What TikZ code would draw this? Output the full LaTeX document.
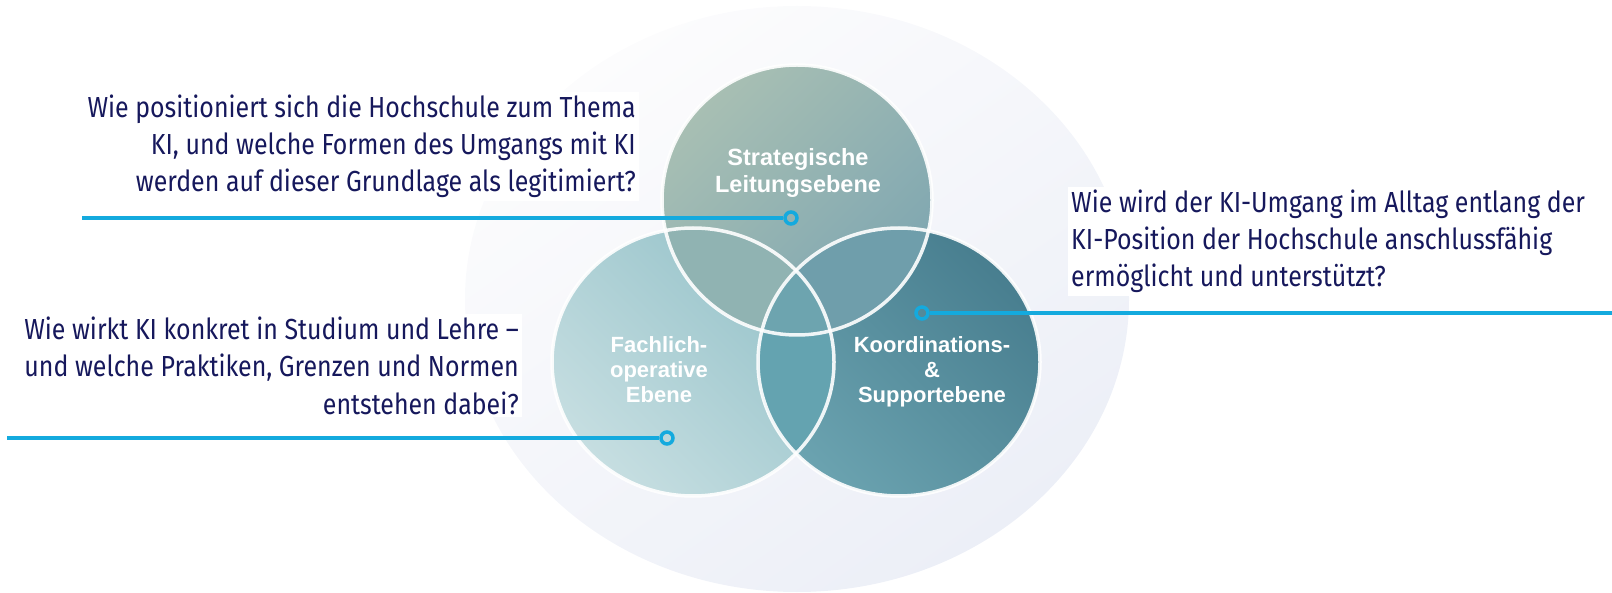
\documentclass[tikz,border=0pt]{standalone}
\usepackage{fontspec}
\setmainfont{Liberation Sans}
\newfontfamily\qfont[FakeStretch=0.86]{Fira Sans}
\newfontfamily\lblfont{Liberation Sans}

\definecolor{navy}{RGB}{22,24,92}
\definecolor{leadercyan}{RGB}{20,170,222}
\definecolor{haloTop}{HTML}{FCFCFD}
\definecolor{haloBot}{HTML}{ECEFF7}
\definecolor{stratA}{HTML}{A8BFB3}
\definecolor{stratB}{HTML}{7EA6B1}
\definecolor{fachA}{HTML}{95C2C9}
\definecolor{fachB}{HTML}{C6DEE1}
\definecolor{koordA}{HTML}{487E8F}
\definecolor{koordB}{HTML}{6BA3B0}
\definecolor{ovSF}{HTML}{90B3B2}
\definecolor{ovSK}{HTML}{6F9EAB}
\definecolor{ovFK}{HTML}{64A3B0}
\definecolor{ovAll}{HTML}{6DA4AF}

% the three sets of the Venn diagram
\def\pathStrat{(797,200) circle[radius=135pt]}
\def\pathFach{(693,362) ellipse[x radius=141pt, y radius=134pt]}
\def\pathKoord{(899,362) ellipse[x radius=141pt, y radius=134pt]}

\begin{document}
\begin{tikzpicture}[x=1pt,y=-1pt,
  question/.style={font=\qfont\fontsize{29}{37}\selectfont, text=navy, fill=white, inner sep=3pt},
  setlabel/.style={font=\lblfont\bfseries\fontsize{23.5}{27}\selectfont, text=white, align=center, inner sep=0pt},
  setlabellow/.style={setlabel, font=\lblfont\bfseries\fontsize{22}{25.5}\selectfont},
  marker/.style={circle, draw=leadercyan, line width=3.5pt, minimum size=12pt, inner sep=0pt},
  leader/.style={draw=leadercyan, line width=4pt},
  rim/.style={draw=white, line width=3.5pt, draw opacity=0.9}]

\useasboundingbox (0,0) rectangle (1612,593);

% faint halo behind the diagram
\shade[top color=haloTop, bottom color=haloBot, shading angle=35]
  (797,299) ellipse[x radius=332pt, y radius=293pt];

% the three sets
\shade[top color=stratA, bottom color=stratB, shading angle=45] \pathStrat;
\shade[top color=fachA, bottom color=fachB, shading angle=-45] \pathFach;
\shade[top color=koordA, bottom color=koordB, shading angle=-45] \pathKoord;

% overlaps
\begin{scope}
  \clip \pathStrat;
  \fill[ovSF] \pathFach;
  \fill[ovSK] \pathKoord;
\end{scope}
\begin{scope}
  \clip \pathFach;
  \fill[ovFK] \pathKoord;
\end{scope}
\begin{scope}
  \clip \pathStrat;
  \clip \pathFach;
  \fill[ovAll] \pathKoord;
\end{scope}

% white rims
\draw[rim] \pathStrat;
\draw[rim] \pathFach;
\draw[rim] \pathKoord;

% set labels (anchored at the baseline of their last line)
\node[setlabel, anchor=base] (lblS) at (798,192.7) {Strategische\\Leitungsebene};
\node[setlabellow, anchor=base] (lblF) at (659,403) {Fachlich-\\operative\\Ebene};
\node[setlabellow, anchor=base] (lblK) at (932,403) {Koordinations-\\\&\\Supportebene};

% questions (anchored at the baseline of their last line)
\node[question, align=right, anchor=base east] (q1) at (639,192)
  {Wie positioniert sich die Hochschule zum Thema\\KI, und welche Formen des Umgangs mit KI\\werden auf dieser Grundlage als legitimiert?};
\node[question, align=left, anchor=base west] (q2) at (1068,287)
  {Wie wird der KI-Umgang im Alltag entlang der\\KI-Position der Hochschule anschlussfähig\\ermöglicht und unterstützt?};
\node[question, align=right, anchor=base east] (q3) at (522,414)
  {Wie wirkt KI konkret in Studium und Lehre –\\und welche Praktiken, Grenzen und Normen\\entstehen dabei?};

% leader lines with ring markers
\node[marker] (m1) at (791,218) {};
\node[marker] (m2) at (922,313) {};
\node[marker] (m3) at (667,438) {};
\coordinate (s1) at (82,218);
\coordinate (e2) at (1612,313);
\coordinate (s3) at (7,438);
\draw[leader] (s1) -- (m1);
\draw[leader] (m2) -- (e2);
\draw[leader] (s3) -- (m3);
\end{tikzpicture}
\end{document}
